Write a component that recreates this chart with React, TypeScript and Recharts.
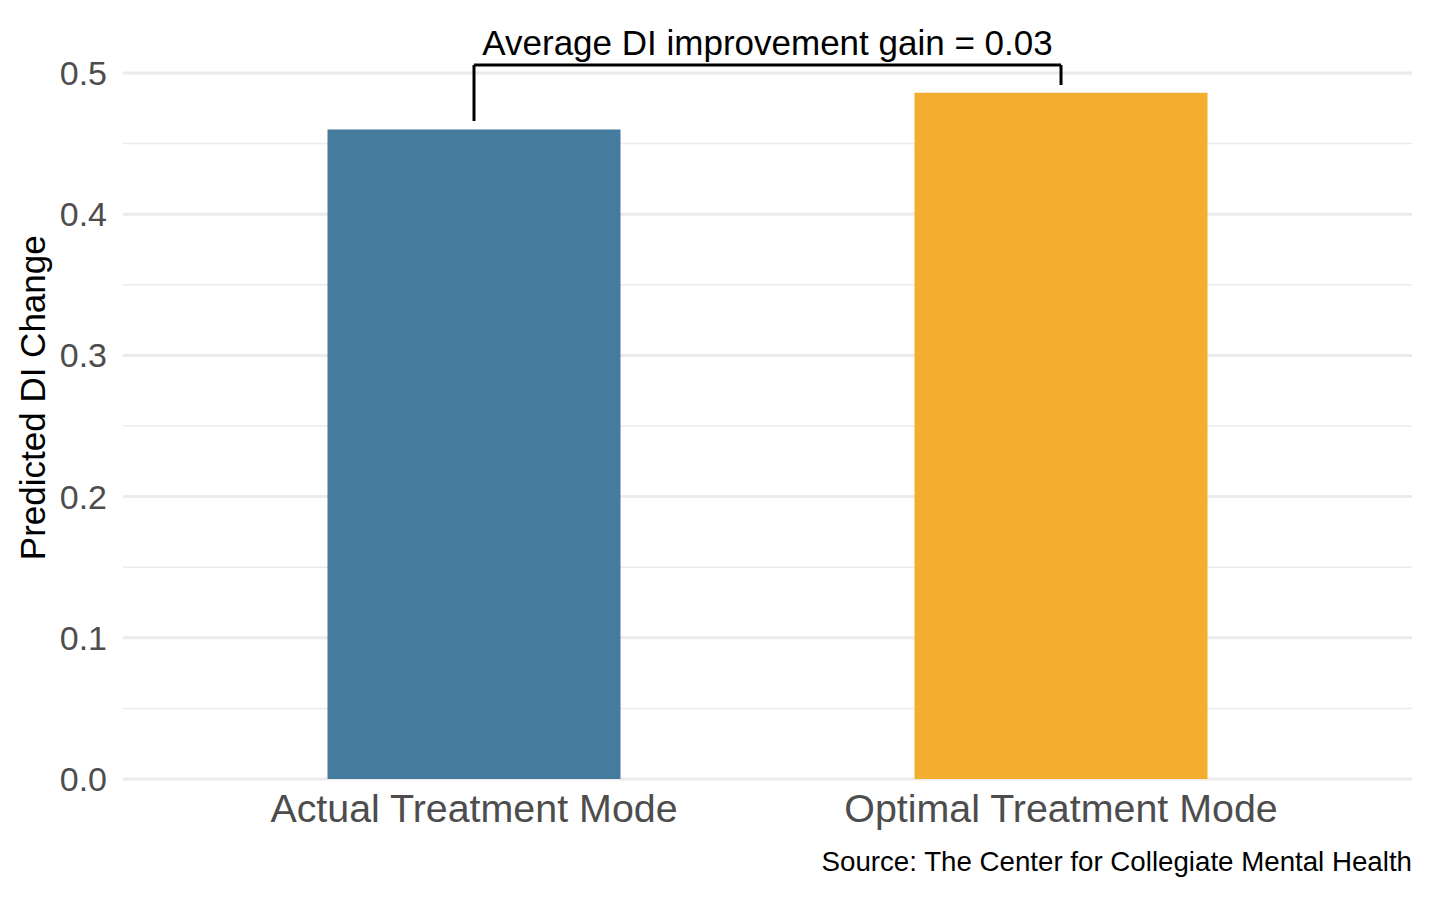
import React from "react";
import {
  BarChart,
  Bar,
  Cell,
  XAxis,
  YAxis,
  CartesianGrid,
  ReferenceLine,
  Label,
} from "recharts";

// categories and values
const modes = ["Actual Treatment Mode", "Optimal Treatment Mode"];
const diChange = [0.46, 0.486];
const barColors = ["#457b9d", "#f4ae2f"];

// axis ticks
const majorTicks = [0, 0.1, 0.2, 0.3, 0.4, 0.5];
const minorTicks = [0.05, 0.15, 0.25, 0.35, 0.45];

// bracket annotation (bottom end of each leg, height of the bar across)
const bracketLegs = [0.466, 0.4915];
const bracketTop = 0.5057;
const bracketText = "Average DI improvement gain = 0.03";

const sourceText = "Source: The Center for Collegiate Mental Health";
const yTitle = "Predicted DI Change";

const data = modes.map((m, i) => ({ mode: m, value: diChange[i] }));

const FONT = "'Liberation Sans', Arial, Helvetica, sans-serif";

const App: React.FC = () => {
  return (
    <div
      style={{
        position: "absolute",
        left: 0,
        top: 0,
        width: 1430,
        height: 898,
        background: "#fff",
        fontFamily: FONT,
      }}
    >
      <BarChart
        width={1430}
        height={898}
        data={data}
        margin={{ top: 16.5, right: 18, bottom: 0, left: 0 }}
        style={{ fontFamily: FONT }}
      >
        <CartesianGrid
          vertical={false}
          horizontalValues={minorTicks}
          stroke="#ebebeb"
          strokeWidth={1.5}
        />
        <CartesianGrid
          vertical={false}
          horizontalValues={majorTicks}
          stroke="#ebebeb"
          strokeWidth={3}
        />
        <XAxis
          dataKey="mode"
          type="category"
          height={119}
          padding={{ left: 57.5, right: 57.5 }}
          axisLine={false}
          tickLine={false}
          tickMargin={9}
          tick={{ fill: "#4d4d4d", fontSize: 39.4 }}
          interval={0}
        >
          <Label
            content={(props: any) => {
              const vb = props.viewBox;
              return (
                <text
                  x={vb.x + vb.width}
                  y={871}
                  textAnchor="end"
                  fontSize={27.7}
                  fill="#000"
                  fontFamily={FONT}
                >
                  {sourceText}
                </text>
              );
            }}
          />
        </XAxis>
        <YAxis
          type="number"
          domain={[0, 0.54]}
          ticks={majorTicks}
          width={123}
          axisLine={false}
          tickLine={false}
          tickMargin={10}
          tickFormatter={(v: number) => v.toFixed(1)}
          tick={{ fill: "#4d4d4d", fontSize: 34 }}
        >
          <Label
            content={(props: any) => {
              const vb = props.viewBox;
              const cy = vb.y + vb.height / 2;
              return (
                <text
                  x={45}
                  y={cy}
                  transform={`rotate(-90, 45, ${cy})`}
                  textAnchor="middle"
                  fontSize={35}
                  fill="#000"
                  fontFamily={FONT}
                >
                  {yTitle}
                </text>
              );
            }}
          />
        </YAxis>
        <Bar dataKey="value" barSize={293} isAnimationActive={false}>
          {data.map((d, i) => (
            <Cell key={d.mode} fill={barColors[i]} />
          ))}
        </Bar>
        <ReferenceLine
          segment={[
            { x: modes[0], y: bracketLegs[0] },
            { x: modes[0], y: bracketTop },
          ]}
          stroke="#000"
          strokeWidth={3}
        />
        <ReferenceLine
          segment={[
            { x: modes[1], y: bracketLegs[1] },
            { x: modes[1], y: bracketTop },
          ]}
          stroke="#000"
          strokeWidth={3}
        />
        <ReferenceLine
          segment={[
            { x: modes[0], y: bracketTop },
            { x: modes[1], y: bracketTop },
          ]}
          stroke="#000"
          strokeWidth={3}
        >
          <Label
            value={bracketText}
            position="top"
            offset={10}
            fontSize={35}
            fill="#000"
            fontFamily={FONT}
          />
        </ReferenceLine>
      </BarChart>
    </div>
  );
};

export default App;
